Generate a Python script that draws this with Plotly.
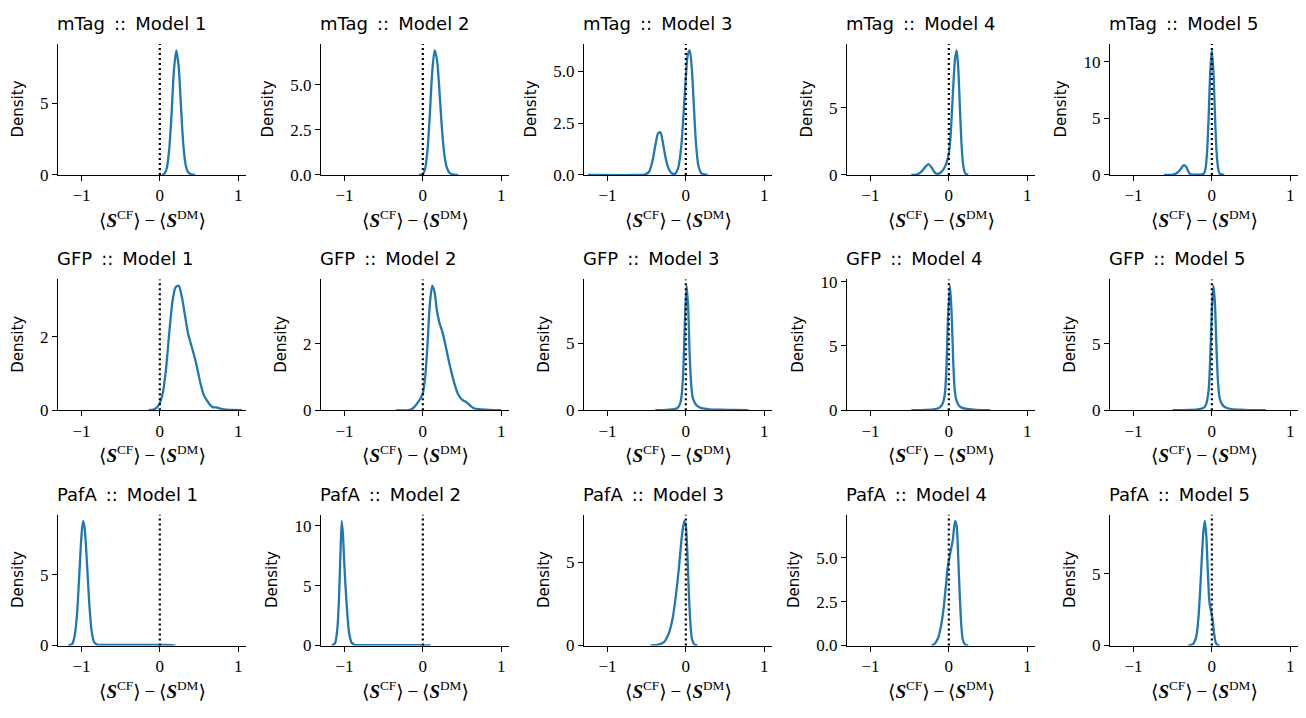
import plotly.graph_objects as go

# ---------------- data ----------------
genes = ["mTag", "GFP", "PafA"]
models = ["Model 1", "Model 2", "Model 3", "Model 4", "Model 5"]

mtag_m1_x = [0.03, 0.06, 0.09, 0.12, 0.15, 0.18, 0.21, 0.24, 0.27, 0.30, 0.33, 0.36, 0.40, 0.45]
mtag_m1_y = [0.0, 0.1, 0.5, 1.8, 4.3, 7.3, 8.7, 7.6, 4.8, 2.1, 0.7, 0.2, 0.05, 0.0]

mtag_m2_x = [-0.05, 0.0, 0.03, 0.06, 0.09, 0.12, 0.15, 0.18, 0.21, 0.24, 0.27, 0.30, 0.34, 0.39, 0.45]
mtag_m2_y = [0.0, 0.05, 0.35, 1.4, 3.4, 5.7, 6.9, 6.4, 4.8, 2.8, 1.3, 0.5, 0.12, 0.02, 0.0]

mtag_m3_x = [-1.25, -0.60, -0.52, -0.47, -0.43, -0.39, -0.355, -0.325, -0.295, -0.26, -0.22, -0.18,
             -0.14, -0.10, -0.06, -0.03, 0.0, 0.025, 0.05, 0.075, 0.10, 0.13, 0.16, 0.20, 0.28]
mtag_m3_y = [0.0, 0.0, 0.02, 0.15, 0.6, 1.4, 2.0, 2.05, 1.6, 0.85, 0.3, 0.08,
             0.05, 0.3, 1.3, 2.9, 4.7, 5.8, 6.0, 5.2, 3.5, 1.5, 0.45, 0.07, 0.0]

mtag_m4_x = [-0.48, -0.40, -0.35, -0.30, -0.26, -0.22, -0.18, -0.14, -0.10, -0.06, -0.03, 0.0,
             0.02, 0.04, 0.06, 0.08, 0.10, 0.12, 0.14, 0.16, 0.18, 0.20, 0.22, 0.25]
mtag_m4_y = [0.0, 0.05, 0.25, 0.6, 0.8, 0.55, 0.18, 0.08, 0.2, 0.5, 0.9, 1.6,
             2.7, 4.8, 7.0, 8.7, 9.3, 8.0, 5.2, 2.5, 0.9, 0.25, 0.05, 0.0]

mtag_m5_x = [-0.61, -0.50, -0.45, -0.40, -0.36, -0.33, -0.30, -0.27, -0.20, -0.12, -0.10, -0.08,
             -0.06, -0.04, -0.02, 0.0, 0.02, 0.04, 0.06, 0.08, 0.10, 0.13, 0.16]
mtag_m5_y = [0.0, 0.03, 0.15, 0.5, 0.85, 0.75, 0.3, 0.05, 0.02, 0.05, 0.12, 0.58,
             2.1, 5.3, 9.15, 11.0, 9.15, 5.3, 2.1, 0.6, 0.12, 0.02, 0.0]

gfp_m1_x = [-0.14, -0.08, -0.04, 0.0, 0.04, 0.08, 0.12, 0.16, 0.20, 0.24, 0.28, 0.32, 0.36,
            0.40, 0.44, 0.48, 0.52, 0.56, 0.60, 0.64, 0.68, 0.72, 0.76, 0.82, 0.92, 1.05]
gfp_m1_y = [0.0, 0.02, 0.07, 0.2, 0.5, 1.15, 2.1, 2.95, 3.35, 3.4, 3.1, 2.6, 2.1,
            1.78, 1.48, 1.12, 0.72, 0.42, 0.27, 0.15, 0.08, 0.08, 0.05, 0.02, 0.01, 0.0]

gfp_m2_x = [-0.34, -0.18, -0.13, -0.09, -0.05, -0.02, 0.0, 0.03, 0.06, 0.09, 0.12, 0.15, 0.18,
            0.21, 0.25, 0.29, 0.33, 0.37, 0.41, 0.45, 0.50, 0.55, 0.60, 0.65, 0.72, 0.85, 1.0]
gfp_m2_y = [0.0, 0.0, 0.05, 0.15, 0.28, 0.4, 0.5, 1.0, 2.0, 3.2, 3.75, 3.55, 3.0,
            2.65, 2.35, 1.95, 1.5, 1.1, 0.75, 0.48, 0.32, 0.25, 0.15, 0.06, 0.03, 0.01, 0.0]

gfp_m3_x = [-0.39, -0.25, -0.15, -0.10, -0.07, -0.05, -0.03, -0.01, 0.01, 0.03, 0.05, 0.07,
            0.09, 0.12, 0.15, 0.20, 0.30, 0.45, 0.60, 0.80]
gfp_m3_y = [0.0, 0.02, 0.08, 0.2, 0.55, 1.3, 3.3, 7.0, 9.3, 7.6, 4.0, 1.8,
            0.9, 0.5, 0.3, 0.15, 0.07, 0.04, 0.02, 0.0]

gfp_m4_x = [-0.48, -0.30, -0.18, -0.12, -0.08, -0.05, -0.03, -0.01, 0.015, 0.035, 0.055, 0.075,
            0.10, 0.13, 0.17, 0.25, 0.35, 0.53]
gfp_m4_y = [0.0, 0.02, 0.08, 0.2, 0.5, 1.3, 3.4, 7.3, 9.7, 7.6, 4.0, 1.6,
            0.7, 0.35, 0.18, 0.08, 0.03, 0.0]

gfp_m5_x = [-0.50, -0.30, -0.18, -0.10, -0.07, -0.04, -0.02, 0.0, 0.02, 0.04, 0.06, 0.08,
            0.10, 0.13, 0.17, 0.25, 0.40, 0.55, 0.69]
gfp_m5_y = [0.0, 0.02, 0.07, 0.2, 0.5, 1.6, 4.0, 7.5, 9.4, 8.0, 4.6, 2.0,
            0.9, 0.45, 0.22, 0.08, 0.03, 0.01, 0.0]

pafa_m1_x = [-1.17, -1.12, -1.09, -1.06, -1.03, -1.00, -0.98, -0.96, -0.93, -0.90, -0.87, -0.84,
             -0.80, -0.70, -0.50, -0.30, -0.10, 0.05, 0.15, 0.20]
pafa_m1_y = [0.0, 0.1, 0.6, 2.0, 4.8, 7.8, 8.8, 8.3, 5.8, 2.9, 1.0, 0.25,
             0.06, 0.04, 0.04, 0.04, 0.04, 0.05, 0.03, 0.0]

pafa_m2_x = [-1.16, -1.12, -1.09, -1.07, -1.05, -1.035, -1.02, -1.00, -0.97, -0.94, -0.91, -0.87,
             -0.70, -0.40, -0.10, 0.05, 0.10]
pafa_m2_y = [0.0, 0.2, 1.5, 4.0, 8.0, 10.4, 9.3, 6.5, 3.2, 1.0, 0.25, 0.06,
             0.03, 0.03, 0.03, 0.02, 0.0]

pafa_m3_x = [-0.45, -0.35, -0.28, -0.22, -0.17, -0.13, -0.09, -0.05, -0.02, 0.0, 0.02, 0.04,
             0.06, 0.08, 0.11, 0.15]
pafa_m3_y = [0.0, 0.05, 0.2, 0.7, 1.6, 2.9, 4.6, 6.6, 7.5, 7.2, 5.5, 3.0,
             1.2, 0.35, 0.06, 0.0]

pafa_m4_x = [-0.22, -0.18, -0.14, -0.10, -0.07, -0.04, -0.01, 0.02, 0.05, 0.08, 0.10, 0.12,
             0.14, 0.16, 0.18, 0.21, 0.25]
pafa_m4_y = [0.0, 0.1, 0.4, 1.1, 2.0, 3.3, 4.6, 5.3, 6.0, 7.1, 6.8, 5.0,
             2.8, 1.1, 0.3, 0.05, 0.0]

pafa_m5_x = [-0.30, -0.24, -0.20, -0.17, -0.14, -0.11, -0.09, -0.07, -0.05, -0.03, -0.01, 0.01,
             0.03, 0.05, 0.08, 0.10]
pafa_m5_y = [0.0, 0.1, 0.6, 2.0, 4.8, 7.8, 8.7, 7.6, 5.0, 3.0, 2.4, 1.8,
             0.8, 0.2, 0.02, 0.0]

curves = [
    [(mtag_m1_x, mtag_m1_y), (mtag_m2_x, mtag_m2_y), (mtag_m3_x, mtag_m3_y),
     (mtag_m4_x, mtag_m4_y), (mtag_m5_x, mtag_m5_y)],
    [(gfp_m1_x, gfp_m1_y), (gfp_m2_x, gfp_m2_y), (gfp_m3_x, gfp_m3_y),
     (gfp_m4_x, gfp_m4_y), (gfp_m5_x, gfp_m5_y)],
    [(pafa_m1_x, pafa_m1_y), (pafa_m2_x, pafa_m2_y), (pafa_m3_x, pafa_m3_y),
     (pafa_m4_x, pafa_m4_y), (pafa_m5_x, pafa_m5_y)],
]

ytick_step = [[5, 2.5, 2.5, 5, 5], [2, 2, 5, 5, 5], [5, 5, 5, 2.5, 5]]
xtick_vals = [-1, 0, 1]
xtick_text = ["−1", "0", "1"]
x_range = [-1.30, 1.10]
ref_value = 0.0

# ---------------- layout geometry ----------------
W, H = 1306, 718
col_left = [58, 321, 584, 847, 1110]
panel_w = 188
row_top = [38, 279, 520]
panel_h = 134

BLUE = "#1f77b4"
SERIF = "Liberation Serif, DejaVu Serif, serif"
SANS = "DejaVu Sans, Liberation Sans, sans-serif"

xlabel = ("⟨<b><i>S</i></b><sup>CF</sup>⟩\u2009−\u2009"
          "⟨<b><i>S</i></b><sup>DM</sup>⟩")

fig = go.Figure()
layout = dict(
    width=W, height=H,
    margin=dict(l=0, r=0, t=0, b=0),
    paper_bgcolor="white", plot_bgcolor="white",
    showlegend=False,
)
annotations = []
shapes = []

for r in range(3):
    for c in range(5):
        n = r * 5 + c + 1
        xs = "" if n == 1 else str(n)
        xa, ya = "x" + xs, "y" + xs
        cx, cy = curves[r][c]
        fig.add_trace(go.Scatter(
            x=cx, y=cy, xaxis=xa, yaxis=ya, mode="lines",
            line=dict(color=BLUE, width=2.3, shape="spline", smoothing=0.7),
            hoverinfo="skip",
        ))
        top = max(cy) * 1.05
        step = ytick_step[r][c]
        k = 0
        tv = []
        while k * step <= top + 1e-9:
            tv.append(k * step)
            k += 1
        if step == 2.5:
            tt = ["%.1f" % v for v in tv]
        else:
            tt = ["%d" % v for v in tv]
        maxlen = max(len(t) for t in tt)

        x0 = col_left[c] / W
        x1 = (col_left[c] + panel_w) / W
        y1 = 1 - row_top[r] / H
        y0 = 1 - (row_top[r] + panel_h) / H
        layout["xaxis" + xs] = dict(
            domain=[x0, x1], range=x_range, anchor=ya,
            tickvals=xtick_vals, ticktext=xtick_text,
            showline=True, linecolor="black", linewidth=1.3,
            ticks="outside", ticklen=5, tickwidth=1.3, tickcolor="black",
            showgrid=False, zeroline=False,
            tickfont=dict(family=SERIF, size=17, color="black"),
        )
        layout["yaxis" + xs] = dict(
            domain=[y0, y1], range=[0, top], anchor=xa,
            tickvals=tv, ticktext=tt,
            showline=True, linecolor="black", linewidth=1.3,
            ticks="outside", ticklen=5, tickwidth=1.3, tickcolor="black",
            showgrid=False, zeroline=False,
            tickfont=dict(family=SERIF, size=17, color="black"),
        )
        shapes.append(dict(
            type="line", xref=xa, yref=ya + " domain",
            x0=ref_value, x1=ref_value, y0=0, y1=1,
            line=dict(color="black", width=2.2, dash="2px,3px"),
        ))
        annotations.append(dict(
            text=f"{genes[r]}\u2002::\u2002{models[c]}", xref=xa + " domain", yref=ya + " domain",
            x=0, y=1, xanchor="left", yanchor="bottom", yshift=8, xshift=-3,
            showarrow=False, font=dict(family=SANS, size=18, color="black"),
        ))
        off = {1: 40, 2: 49, 3: 53}.get(maxlen, 53)
        annotations.append(dict(
            text="Density", xref=xa + " domain", yref=ya + " domain",
            x=0, y=0.5, xshift=-off, textangle=-90,
            xanchor="center", yanchor="middle", showarrow=False,
            font=dict(family=SANS, size=15, color="black"),
        ))
        annotations.append(dict(
            text=xlabel, xref=xa + " domain", yref=ya + " domain",
            x=0.5, y=0, yshift=-44, xanchor="center", yanchor="middle",
            showarrow=False, font=dict(family=SERIF, size=19, color="black"),
        ))

layout["annotations"] = annotations
layout["shapes"] = shapes
fig.update_layout(**layout)
fig.write_html("out.html")
